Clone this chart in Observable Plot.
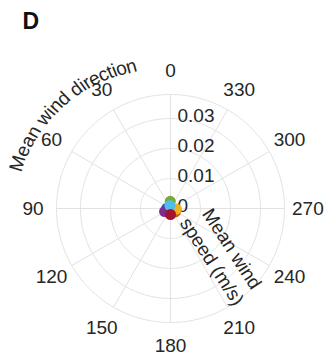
<!DOCTYPE html>
<html>
<head>
<meta charset="utf-8">
<script src="https://cdn.jsdelivr.net/npm/d3@7"></script>
<script src="https://cdn.jsdelivr.net/npm/@observablehq/plot@0.6"></script>
<style>
  body { margin: 0; background: #fff; }
  #chart svg { display: block; }
</style>
</head>
<body>
<div id="chart"></div>
<script>
// ---- data ----
const panelLabel = "D";
const thetaTicks = [0, 30, 60, 90, 120, 150, 180, 210, 240, 270, 300, 330];
const rTickValues = [0, 0.01, 0.02, 0.03];
const rGridValues = [0.01, 0.02, 0.03];
const rMax = 0.038;
const thetaTitle = "Mean wind direction";
const rTitle = "Mean wind\nspeed (m/s)";
const groups = ["G1", "G2", "G3", "G4", "G5", "G6", "G7"];
const groupColors = ["#0072BD", "#D95319", "#EDB120", "#7E2F8E", "#77AC30", "#4DBEEE", "#A2142F"];
const windDir = [90, 235, 265, 117, 2, 10, 180];
const windSpeed = [0.0013, 0.0020, 0.0020, 0.0022, 0.0024, 0.0010, 0.0020];

// ---- layout ----
const W = 334, H = 360;
const mL = 56, mR = 50, mT = 94, mB = 38;
const outerPx = (W - mL - mR) / 2;
const pxPerUnit = outerPx / rMax;
const K = 1000; // degrees of arc per unit of wind speed
const lon = d => d + 180;
const lat = r => 90 - r * K;
const FONT = "'Liberation Sans', Arial, Helvetica, sans-serif";
const FS = 19;
const ink = "#262626";
const gridColor = "#e2e2e2";

const points = groups.map((g, i) => ({g, dir: windDir[i], r: windSpeed[i]}));

// curved angular-axis title: one glyph per character along an arc
const ctx = document.createElement("canvas").getContext("2d");
ctx.font = `${FS}px 'Liberation Sans'`;
const chars = [...thetaTitle];
const widths = chars.map(c => ctx.measureText(c).width);
const total = d3.sum(widths);
const R0 = 160, R1 = 147, midDir = 45;
const Ravg = (R0 + R1) / 2;
let acc = 0;
const titleChars = chars.map((c, i) => {
  const sc = acc + widths[i] / 2;
  acc += widths[i];
  const R = R0 + (R1 - R0) * sc / total;
  const a = midDir + (total / 2 - sc) / Ravg * 180 / Math.PI;
  return {c, dir: a, r: R / pxPerUnit};
});

const chart = Plot.plot({
  width: W,
  height: H,
  marginLeft: mL, marginRight: mR, marginTop: mT, marginBottom: mB,
  style: {fontFamily: FONT, fontSize: FS + "px", background: "#fff", color: ink},
  projection: {
    type: "azimuthal-equidistant",
    rotate: [0, -90],
    clip: false,
    domain: d3.geoCircle().center([0, 90]).radius(rMax * K)()
  },
  color: {domain: groups, range: groupColors},
  marks: [
    // rings
    Plot.geo([...rGridValues, rMax], {
      geometry: r => d3.geoCircle().center([0, 90]).radius(r * K).precision(1)(),
      fill: "none", stroke: gridColor, strokeWidth: 1
    }),
    // spokes
    Plot.link(thetaTicks, {
      x1: d => lon(d), y1: 90, x2: d => lon(d), y2: lat(rMax),
      stroke: gridColor, strokeWidth: 1
    }),
    // radial tick labels
    Plot.text(rTickValues, {
      x: lon(0), y: d => lat(d), text: d => String(d),
      textAnchor: "start", lineAnchor: "middle", dx: 7, dy: -3,
      fontSize: FS, fill: ink
    }),
    // angular tick labels
    Plot.text(thetaTicks, {
      x: d => lon(d), y: lat(0.0458), text: d => String(d),
      textAnchor: "middle", lineAnchor: "middle", fontSize: FS, fill: ink
    }),
    // data points
    Plot.dot(points, {
      x: d => lon(d.dir), y: d => lat(d.r), fill: "g", r: 5.5, stroke: null
    }),
    // radial axis title
    Plot.text([rTitle], {
      x: lon(228.8), y: lat(69.8 / pxPerUnit), text: d => d, rotate: 57,
      textAnchor: "middle", lineAnchor: "middle", lineHeight: 1.25,
      fontSize: FS, fill: ink
    }),
    // curved angular axis title
    Plot.text(titleChars, {
      x: d => lon(d.dir), y: d => lat(d.r), text: "c", rotate: d => -d.dir,
      textAnchor: "middle", lineAnchor: "middle", fontSize: FS, fill: ink
    }),
    // panel letter
    Plot.text([panelLabel], {
      frameAnchor: "top-left", text: d => d, dx: 22 - mL, dy: 12 - mT,
      textAnchor: "start", lineAnchor: "top", fontSize: 23, fontWeight: "bold", fill: "#111"
    })
  ]
});
document.getElementById("chart").append(chart);
</script>
</body>
</html>
